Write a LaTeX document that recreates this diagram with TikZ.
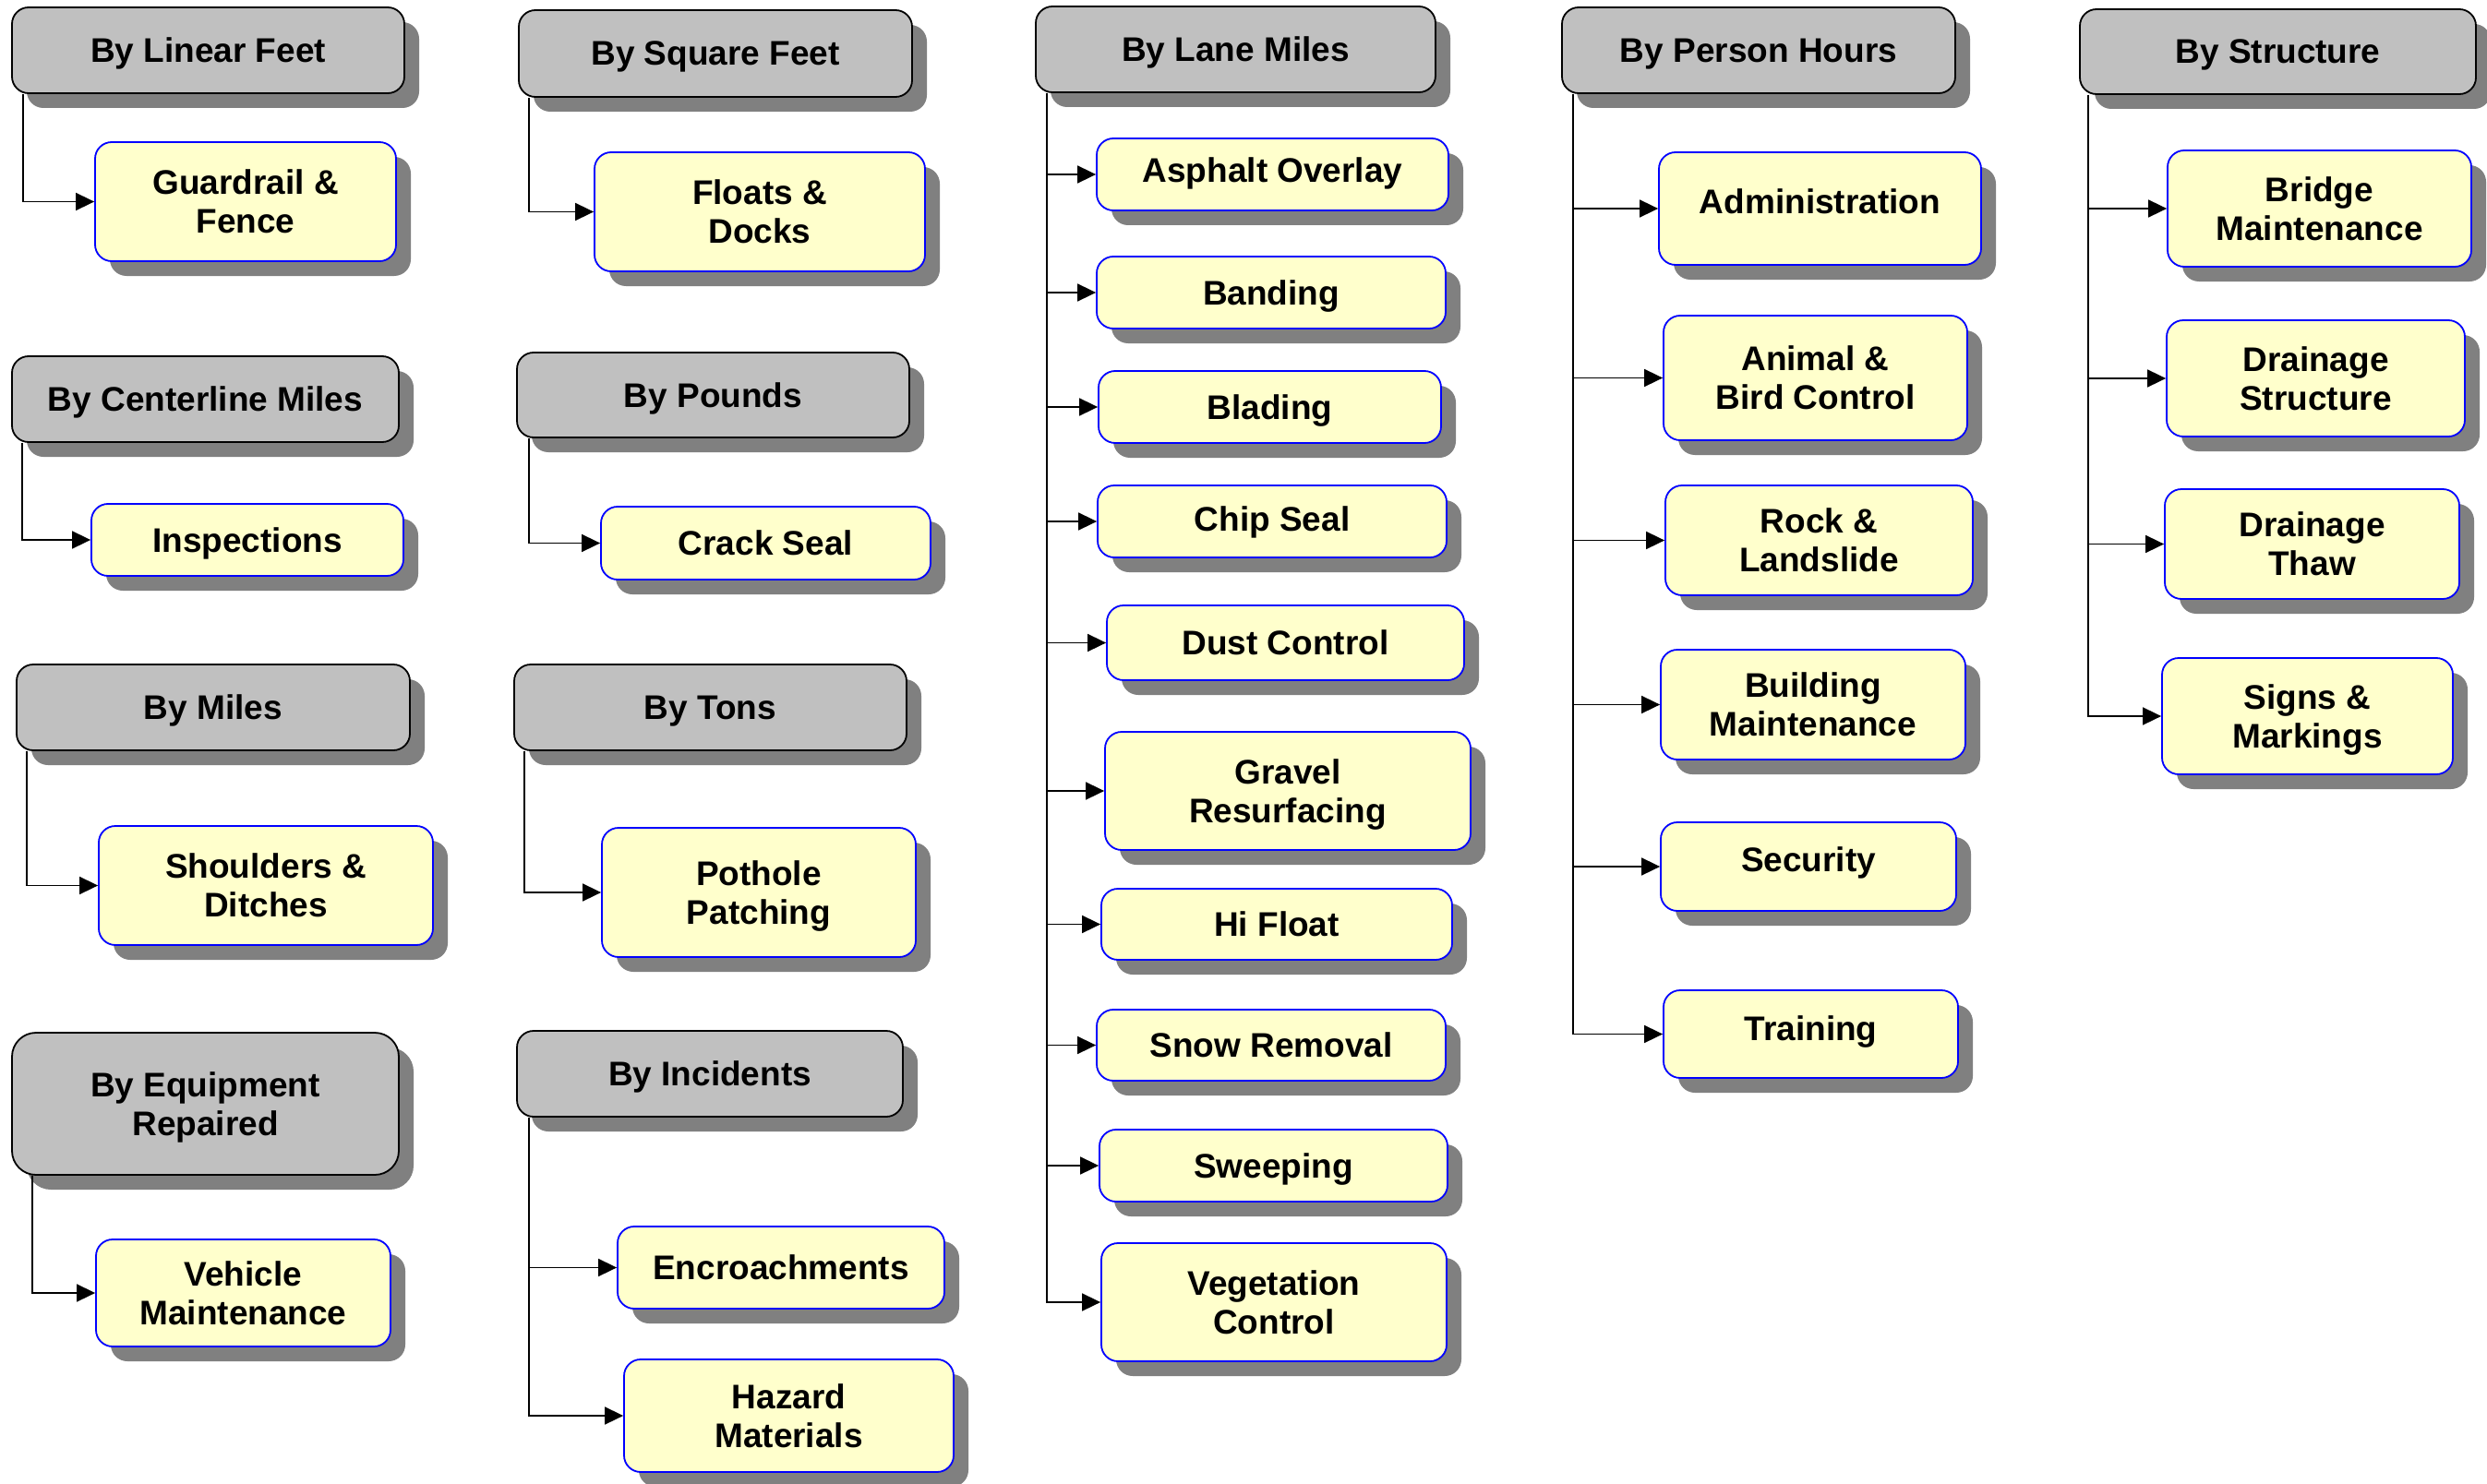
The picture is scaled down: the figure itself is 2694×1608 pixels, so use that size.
\documentclass[tikz,border=0pt]{standalone}
\usepackage{fontspec}
\setmainfont{Liberation Sans}
\usetikzlibrary{arrows.meta,shadows}

\definecolor{hdrfill}{HTML}{C0C0C0}
\definecolor{itemfill}{HTML}{FFFFCC}
\definecolor{itemline}{HTML}{0000FF}
\definecolor{shadowgray}{HTML}{808080}

% Box from its corner coordinates (x1,y1)-(x2,y2), y measured downwards
\newcommand\boxat[7]{%
  \pgfmathsetmacro\bxcx{(#3+#5)/2}\pgfmathsetmacro\bxcy{(#4+#6)/2}%
  \pgfmathsetmacro\bxw{#5-#3}\pgfmathsetmacro\bxh{#6-#4}%
  \node[#2, minimum width=\bxw pt, minimum height=\bxh pt] (#1) at (\bxcx,\bxcy) {#7};}
% label lifted above the box centre
\newcommand\lifted[2]{\raisebox{#1}[27pt][0pt]{#2}}

\tikzset{
  basebox/.style={rectangle, rounded corners=18pt, inner sep=0pt, align=center,
    font=\fontsize{37}{42}\selectfont\bfseries, line width=1.8pt, text depth=0pt,
    general shadow={fill=shadowgray, shadow xshift=16pt, shadow yshift=-16pt}},
  hdr/.style={basebox, draw=black, fill=hdrfill},
  item/.style={basebox, draw=itemline, fill=itemfill},
  link/.style={line width=1.7pt, -{Triangle[length=20pt,width=19pt]}},
}

\begin{document}
\begin{tikzpicture}[x=1pt,y=-1pt]
\useasboundingbox (0,0) rectangle (2694,1608);
\fill[white] (0,0) rectangle (2694,1608);

% ---------- column 1 ----------
\boxat{h1}{hdr}{13}{8}{438}{101}{By Linear Feet}
\boxat{c1}{item}{103}{154}{429}{283}{Guardrail \&\\Fence}
\boxat{h2}{hdr}{13}{386}{432}{479}{By Centerline Miles}
\boxat{c2}{item}{99}{546}{437}{624}{Inspections}
\boxat{h3}{hdr}{18}{720}{444}{813}{By Miles}
\boxat{c3}{item}{107}{895}{469}{1024}{Shoulders \&\\Ditches}
\boxat{h4}{hdr,rounded corners=26pt}{13}{1119}{432}{1273}{By Equipment\\Repaired}
\boxat{c4}{item}{104}{1343}{423}{1459}{Vehicle\\Maintenance}

% ---------- column 2 ----------
\boxat{h5}{hdr}{562}{11}{988}{105}{By Square Feet}
\boxat{c5}{item}{644}{165}{1002}{294}{Floats \&\\Docks}
\boxat{h6}{hdr}{560}{382}{985}{474}{By Pounds}
\boxat{c6}{item}{651}{549}{1008}{628}{Crack Seal}
\boxat{h7}{hdr}{557}{720}{982}{813}{By Tons}
\boxat{c7}{item}{652}{897}{992}{1037}{Pothole\\Patching}
\boxat{h8}{hdr}{560}{1117}{978}{1210}{By Incidents}
\boxat{c8a}{item}{669}{1329}{1023}{1418}{Encroachments}
\boxat{c8b}{item}{676}{1473}{1033}{1595}{Hazard\\Materials}

% ---------- column 3 ----------
\boxat{h9}{hdr}{1122}{7}{1555}{100}{By Lane Miles}
\boxat{c9a}{item}{1188}{150}{1569}{228}{\lifted{5pt}{Asphalt Overlay}}
\boxat{c9b}{item}{1188}{278}{1566}{356}{Banding}
\boxat{c9c}{item}{1190}{402}{1561}{480}{Blading}
\boxat{c9d}{item}{1189}{526}{1567}{604}{\lifted{3pt}{Chip Seal}}
\boxat{c9e}{item}{1199}{656}{1586}{737}{Dust Control}
\boxat{c9f}{item}{1197}{793}{1593}{921}{Gravel\\Resurfacing}
\boxat{c9g}{item}{1193}{963}{1573}{1040}{Hi Float}
\boxat{c9h}{item}{1188}{1094}{1566}{1171}{Snow Removal}
\boxat{c9i}{item}{1191}{1224}{1568}{1302}{Sweeping}
\boxat{c9j}{item}{1193}{1347}{1567}{1475}{Vegetation\\Control}

% ---------- column 4 ----------
\boxat{h10}{hdr}{1692}{8}{2118}{101}{By Person Hours}
\boxat{c10a}{item}{1797}{165}{2146}{287}{\lifted{8pt}{Administration}}
\boxat{c10b}{item}{1802}{342}{2131}{477}{Animal \&\\Bird Control}
\boxat{c10c}{item}{1804}{526}{2137}{645}{Rock \&\\Landslide}
\boxat{c10d}{item}{1799}{704}{2129}{823}{Building\\Maintenance}
\boxat{c10e}{item}{1799}{891}{2119}{987}{\lifted{8pt}{Security}}
\boxat{c10f}{item}{1802}{1073}{2121}{1168}{\lifted{7pt}{Training}}

% ---------- column 5 ----------
\boxat{h11}{hdr}{2253}{10}{2682}{102}{By Structure}
\boxat{c11a}{item}{2348}{163}{2677}{289}{Bridge\\Maintenance}
\boxat{c11b}{item}{2347}{347}{2670}{473}{Drainage\\Structure}
\boxat{c11c}{item}{2345}{530}{2664}{649}{Drainage\\Thaw}
\boxat{c11d}{item}{2342}{713}{2657}{839}{Signs \&\\Markings}

% ---------- connectors ----------
\coordinate (t1) at ([xshift=13pt]h1.south west);
\coordinate (t2) at ([xshift=12pt]h2.south west);
\coordinate (t3) at ([xshift=12pt]h3.south west);
\coordinate (t4) at ([xshift=23pt]h4.south west);
\coordinate (t5) at ([xshift=12pt]h5.south west);
\coordinate (t6) at ([xshift=14pt]h6.south west);
\coordinate (t7) at ([xshift=12pt]h7.south west);
\coordinate (t8) at ([xshift=14pt]h8.south west);
\coordinate (t9) at ([xshift=13pt]h9.south west);
\coordinate (t10) at ([xshift=13pt]h10.south west);
\coordinate (t11) at ([xshift=10pt]h11.south west);

\draw[link] (t1) |- (c1.west);
\draw[link] (t2) |- (c2.west);
\draw[link] (t3) |- (c3.west);
\draw[link] (t4) |- (c4.west);
\draw[link] (t5) |- (c5.west);
\draw[link] (t6) |- (c6.west);
\draw[link] (t7) |- (c7.west);
\foreach \c in {c8a,c8b} \draw[link] (t8) |- (\c.west);
\foreach \c in {c9a,c9b,c9c,c9d,c9e,c9f,c9g,c9h,c9i,c9j} \draw[link] (t9) |- (\c.west);
\foreach \c in {c10a,c10b,c10c,c10d,c10e,c10f} \draw[link] (t10) |- (\c.west);
\foreach \c in {c11a,c11b,c11c,c11d} \draw[link] (t11) |- (\c.west);
\end{tikzpicture}
\end{document}
